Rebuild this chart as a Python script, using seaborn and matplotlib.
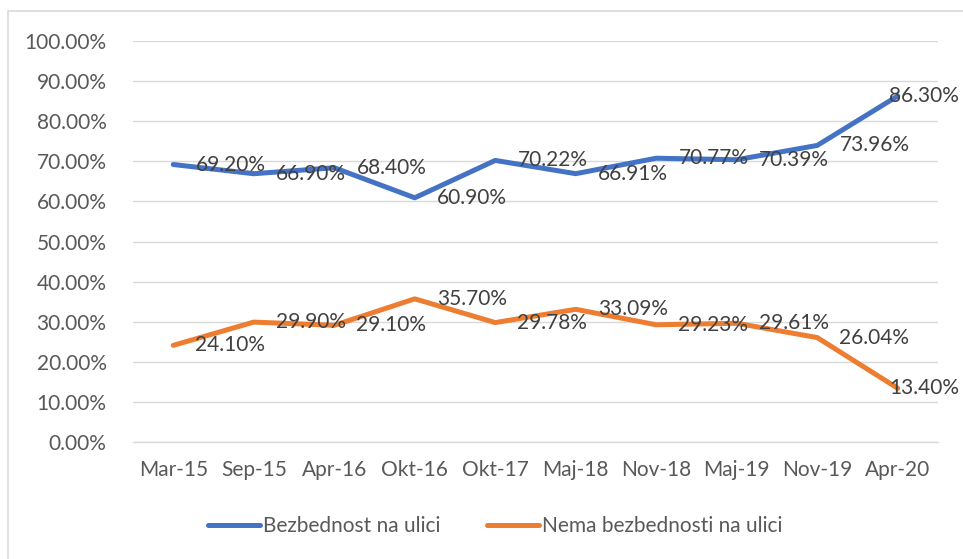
import numpy as np
import pandas as pd
import matplotlib
matplotlib.use("Agg")
import matplotlib.pyplot as plt
from matplotlib.patches import Rectangle
import seaborn as sns

categories = ["Mar-15", "Sep-15", "Apr-16", "Okt-16", "Okt-17", "Maj-18", "Nov-18", "Maj-19", "Nov-19", "Apr-20"]
bezbednost = [69.20, 66.90, 68.40, 60.90, 70.22, 66.91, 70.77, 70.39, 73.96, 86.30]
nema_bezbednosti = [24.10, 29.90, 29.10, 35.70, 29.78, 33.09, 29.23, 29.61, 26.04, 13.40]
series_names = ["Bezbednost na ulici", "Nema bezbednosti na ulici"]
y_ticks = [0, 10, 20, 30, 40, 50, 60, 70, 80, 90, 100]

sns.set_style("white")
plt.rcParams["font.family"] = ["Lato", "DejaVu Sans"]
FS = 15

df = pd.DataFrame({
    "period": categories * 2,
    "pos": list(range(len(categories))) * 2,
    "value": bezbednost + nema_bezbednosti,
    "series": [series_names[0]] * len(categories) + [series_names[1]] * len(categories),
})

palette = {series_names[0]: "#4472C4", series_names[1]: "#ED7D31"}

fig = plt.figure(figsize=(9.63, 5.59), dpi=100)
ax = fig.add_axes([133 / 963, 1 - 442 / 559, (938 - 133) / 963, (442 - 41) / 559])

sns.lineplot(data=df, x="pos", y="value", hue="series", palette=palette,
             linewidth=3.6, ax=ax, sort=False, estimator=None,
             solid_capstyle="round")

ax.set_xlim(-0.5, len(categories) - 0.5)
ax.set_ylim(0, 100)
ax.set_yticks(y_ticks)
ax.set_yticklabels([f"{v:.2f}%" for v in y_ticks])
ax.set_xticks(range(len(categories)))
ax.set_xticklabels(categories)
ax.set_xticks(np.arange(-0.5, len(categories), 1.0), minor=True)
ax.tick_params(axis="x", which="major", length=0, pad=13, labelsize=FS, labelcolor="#595959")
ax.tick_params(axis="x", which="minor", length=6, width=1, color="#D9D9D9")
ax.tick_params(axis="y", length=0, pad=19, labelsize=FS, labelcolor="#595959")
ax.set_xlabel("")
ax.set_ylabel("")
ax.grid(axis="y", color="#D9D9D9", linewidth=1)
ax.set_axisbelow(True)
for s in ["top", "right", "left"]:
    ax.spines[s].set_visible(False)
ax.spines["bottom"].set_color("#D9D9D9")
ax.spines["bottom"].set_linewidth(1)

for vals in (bezbednost, nema_bezbednosti):
    n = len(vals)
    for i, v in enumerate(vals):
        dx = 16 if i < n - 1 else -6
        ax.annotate(f"{v:.2f}%", (i, v), xytext=(dx, 0), textcoords="offset points",
                    ha="left", va="center", fontsize=FS, color="#404040",
                    annotation_clip=False)

leg = ax.legend(loc="center", bbox_to_anchor=(0.45, -0.21),
                bbox_transform=ax.transAxes, ncol=2, frameon=False, fontsize=FS,
                handlelength=2.5, handletextpad=0.15, columnspacing=2.2)
for t in leg.get_texts():
    t.set_color("#595959")
for h in leg.get_lines():
    h.set_linewidth(3.6)
    h.set_solid_capstyle("round")

fig.patches.append(Rectangle((8 / 963, -0.1), 1.2, 1.1 - 11 / 559, transform=fig.transFigure,
                             fill=False, edgecolor="#D9D9D9", linewidth=1.2))

fig.savefig("out.png", dpi=100)
